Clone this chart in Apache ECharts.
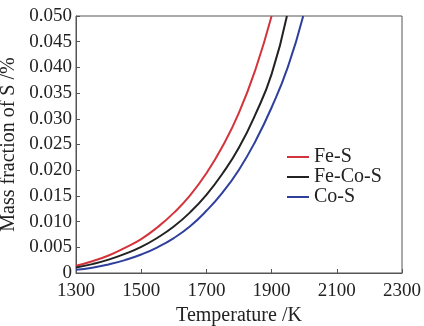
<!DOCTYPE html>
<html>
<head>
<meta charset="utf-8">
<script src="https://cdn.jsdelivr.net/npm/echarts@6/dist/echarts.min.js"></script>
<style>
  html, body { margin: 0; padding: 0; background: #fff; }
  #chart { width: 424px; height: 326px; }
</style>
</head>
<body>
<div id="chart"></div>
<script>
// values
const feS = [
  [1300, 0.0014], [1350, 0.0023], [1400, 0.0034], [1450, 0.0049],
  [1500, 0.0066], [1550, 0.0089], [1600, 0.0117], [1650, 0.0151],
  [1700, 0.0194], [1750, 0.0247], [1800, 0.0312], [1850, 0.0395],
  [1900, 0.0500]
]
const feCoS = [
  [1300, 0.00105], [1350, 0.00173], [1400, 0.0026], [1450, 0.00372],
  [1500, 0.00508], [1550, 0.00686], [1600, 0.00905], [1650, 0.0118],
  [1700, 0.0152], [1750, 0.0194], [1800, 0.0244], [1850, 0.0308],
  [1900, 0.0387], [1947, 0.0500]
]
const coS = [
  [1300, 0.00065], [1350, 0.00104], [1400, 0.00167], [1450, 0.00251],
  [1500, 0.0036], [1550, 0.0050], [1600, 0.0068], [1650, 0.0091],
  [1700, 0.0121], [1750, 0.0157], [1800, 0.0201], [1850, 0.0256],
  [1900, 0.0322], [1950, 0.0401], [1997, 0.0500]
]
const seriesNames = ['Fe-S', 'Fe-Co-S', 'Co-S']
const xTickLabels = ['1300', '1500', '1700', '1900', '2100', '2300']
const yTickLabels = ['0', '0.005', '0.010', '0.015', '0.020', '0.025', '0.030', '0.035', '0.040', '0.045', '0.050']

const colors = ['#d3343c', '#222222', '#2e3f9c']
const font = 'Liberation Serif'

const chart = echarts.init(document.getElementById('chart'))

function lineSeries(name, data, color) {
  return {
    name: name,
    type: 'line',
    data: data,
    smooth: true,
    showSymbol: false,
    lineStyle: { color: color, width: 2 },
    itemStyle: { color: color }
  }
}

chart.setOption({
  animation: false,
  textStyle: { fontFamily: font },
  grid: {
    left: 76,
    right: 22,
    top: 16,
    bottom: 53,
    outerBoundsMode: 'none',
    containLabel: false,
    show: true,
    borderColor: '#555',
    borderWidth: 1
  },
  legend: {
    orient: 'vertical',
    left: 287,
    top: 147,
    padding: 0,
    icon: 'rect',
    itemWidth: 22,
    itemHeight: 2,
    itemGap: 0,
    textStyle: { fontFamily: font, fontSize: 20, color: '#222', lineHeight: 20 },
    data: seriesNames
  },
  xAxis: {
    type: 'value',
    min: 1300,
    max: 2300,
    interval: 200,
    name: 'Temperature /K',
    nameLocation: 'middle',
    nameGap: 29,
    nameTextStyle: { fontFamily: font, fontSize: 20, color: '#222' },
    axisLine: { show: true, lineStyle: { color: '#555' } },
    axisTick: { show: true, inside: true, length: 4, lineStyle: { color: '#555' } },
    axisLabel: {
      fontFamily: font,
      fontSize: 19,
      color: '#222',
      margin: 9,
      formatter: function(v) {
        return xTickLabels[Math.round((v - 1300) / 200)]
      }
    },
    splitLine: { show: false }
  },
  yAxis: {
    type: 'value',
    min: 0,
    max: 0.05,
    interval: 0.005,
    name: 'Mass fraction of S /%',
    nameLocation: 'middle',
    nameGap: 53,
    nameTextStyle: { fontFamily: font, fontSize: 20, color: '#222' },
    axisLine: { show: true, lineStyle: { color: '#555' } },
    axisTick: { show: true, inside: true, length: 4, lineStyle: { color: '#555' } },
    axisLabel: {
      fontFamily: font,
      fontSize: 19,
      color: '#222',
      margin: 4,
      formatter: function(v) {
        return yTickLabels[Math.round(v / 0.005)]
      }
    },
    splitLine: { show: false }
  },
  series: [
    lineSeries(seriesNames[0], feS, colors[0]),
    lineSeries(seriesNames[1], feCoS, colors[1]),
    lineSeries(seriesNames[2], coS, colors[2])
  ]
})
</script>
</body>
</html>
